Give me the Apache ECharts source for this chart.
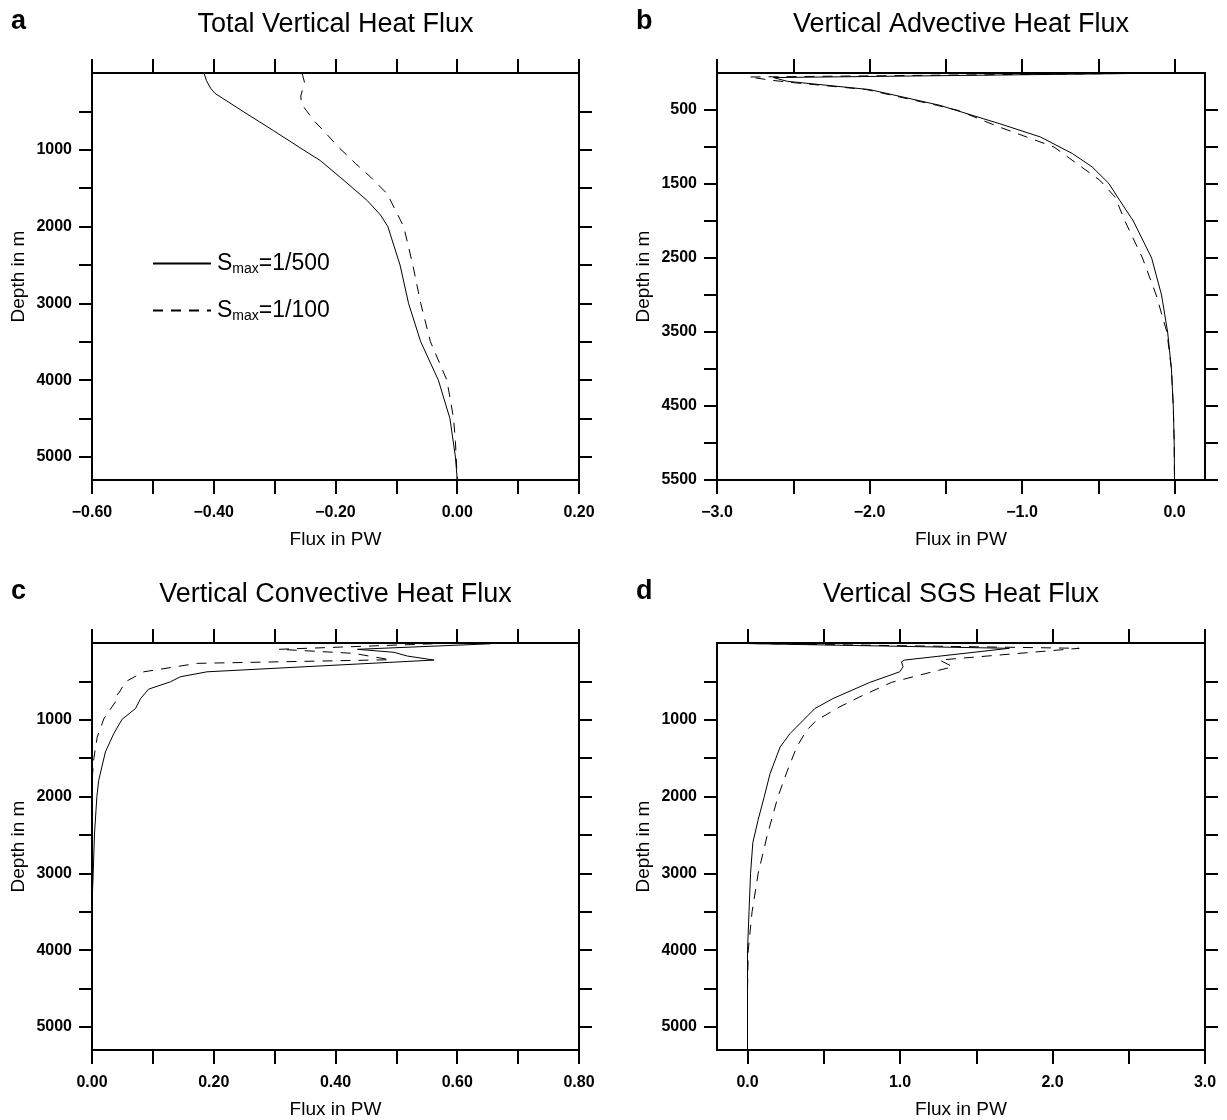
<!DOCTYPE html>
<html><head><meta charset="utf-8">
<script src="https://cdn.jsdelivr.net/npm/echarts@6/dist/echarts.min.js"></script>
<style>html,body{margin:0;padding:0;background:#fff}#c{width:1227px;height:1120px}</style>
</head><body><div id="c"></div>
<script>
// ---------- Panel a: Total Vertical Heat Flux ----------
const totalDepth500 = [0, 100, 200, 265, 500, 750, 1000, 1140, 1400, 1660, 1850, 2000, 2500, 3000, 3500, 4000, 4500, 5000, 5300];
const totalFlux500  = [-0.416, -0.412, -0.405, -0.398, -0.352, -0.302, -0.253, -0.225, -0.186, -0.148, -0.126, -0.114, -0.094, -0.080, -0.060, -0.031, -0.012, -0.003, 0.0];
const totalDepth100 = [0, 120, 300, 400, 487, 617, 748, 966, 1179, 1358, 1574, 2000, 2500, 3000, 3500, 4000, 4500, 4800, 5300];
const totalFlux100  = [-0.255, -0.251, -0.257, -0.256, -0.248, -0.236, -0.220, -0.195, -0.167, -0.142, -0.115, -0.088, -0.073, -0.060, -0.044, -0.017, -0.006, -0.003, 0.0];

// ---------- Panel b: Vertical Advective Heat Flux ----------
const advDepth500 = [0, 62, 112, 224, 436, 683, 864, 1088, 1269, 1494, 1719, 2000, 2500, 3000, 3500, 4000, 4500, 5000, 5500];
const advFlux500  = [0.0, -2.63, -2.54, -2.00, -1.54, -1.15, -0.88, -0.67, -0.54, -0.43, -0.36, -0.27, -0.15, -0.085, -0.045, -0.02, -0.008, -0.002, 0.0];
const advDepth100 = [0, 54, 99, 130, 224, 436, 505, 729, 1000, 1449, 1675, 2000, 2500, 3000, 3500, 4000, 4500, 5000, 5500];
const advFlux100  = [0.0, -2.79, -2.64, -2.50, -2.02, -1.56, -1.42, -1.15, -0.79, -0.49, -0.39, -0.325, -0.21, -0.12, -0.05, -0.02, -0.008, -0.002, 0.0];

// ---------- Panel c: Vertical Convective Heat Flux ----------
const convDepth500 = [10, 82, 121, 170, 222, 375, 440, 505, 601, 722, 853, 992, 1179, 1419, 1789, 2000, 2500, 3000, 3400, 5300];
const convFlux500  = [0.655, 0.436, 0.496, 0.518, 0.562, 0.189, 0.145, 0.129, 0.093, 0.080, 0.0715, 0.0496, 0.0358, 0.022, 0.011, 0.008, 0.004, 0.002, 0.0, 0.0];
const convDepth100 = [10, 82, 135, 174, 218, 265, 375, 505, 640, 722, 766, 986, 1226, 1507, 1800, 5300];
const convFlux100  = [0.56, 0.307, 0.43, 0.458, 0.49, 0.173, 0.085, 0.055, 0.045, 0.036, 0.0386, 0.0195, 0.0085, 0.003, 0.0, 0.0];

// ---------- Panel d: Vertical SGS Heat Flux ----------
const sgsDepth500 = [0, 69, 222, 244, 310, 375, 513, 722, 853, 1179, 1354, 1701, 2000, 2300, 2600, 3000, 3500, 4000, 5300];
const sgsFlux500  = [-0.2, 1.717, 1.031, 1.01, 1.02, 0.998, 0.802, 0.562, 0.442, 0.279, 0.214, 0.148, 0.11, 0.07, 0.035, 0.02, 0.01, 0.0, 0.0];
const sgsDepth100 = [0, 69, 222, 310, 397, 513, 700, 830, 1005, 1136, 1354, 1680, 2000, 2500, 3000, 3500, 4000, 4500, 5300];
const sgsFlux100  = [-0.2, 2.175, 1.26, 1.346, 1.17, 0.944, 0.737, 0.606, 0.454, 0.388, 0.323, 0.258, 0.20, 0.13, 0.07, 0.03, 0.005, 0.0, 0.0];

// ---------- Ticks and labels ----------
const xTicksA  = [-0.6, -0.5, -0.4, -0.3, -0.2, -0.1, 0, 0.1, 0.2];
const xLabelsA = [-0.6, -0.4, -0.2, 0, 0.2];
const xTicksB  = [-3, -2.5, -2, -1.5, -1, -0.5, 0];
const xLabelsB = [-3, -2, -1, 0];
const xTicksC  = [0, 0.1, 0.2, 0.3, 0.4, 0.5, 0.6, 0.7, 0.8];
const xLabelsC = [0, 0.2, 0.4, 0.6, 0.8];
const xTicksD  = [0, 0.5, 1, 1.5, 2, 2.5, 3];
const xLabelsD = [0, 1, 2, 3];
const yTicks   = [500, 1000, 1500, 2000, 2500, 3000, 3500, 4000, 4500, 5000];
const yLabels  = [1000, 2000, 3000, 4000, 5000];
const yTicksB  = [500, 1000, 1500, 2000, 2500, 3000, 3500, 4000, 4500, 5000, 5500];
const yLabelsB = [500, 1500, 2500, 3500, 4500, 5500];

const titles = ['Total Vertical Heat Flux', 'Vertical Advective Heat Flux', 'Vertical Convective Heat Flux', 'Vertical SGS Heat Flux'];
const letters = ['a', 'b', 'c', 'd'];
const seriesNames = ['Smax=1/500', 'Smax=1/100'];

const FONT = 'Liberation Sans, Arial, sans-serif';
const grids = [
  {left: 92,  top: 73,  width: 487, height: 407},
  {left: 717, top: 73,  width: 488, height: 407},
  {left: 92,  top: 643, width: 487, height: 407},
  {left: 717, top: 643, width: 488, height: 407}
];
const xRange = [[-0.6, 0.2], [-3, 0.2], [0, 0.8], [-0.2, 3]];
const yMax = [5300, 5500, 5300, 5300];
const xTicks = [xTicksA, xTicksB, xTicksC, xTicksD];
const xLabels = [xLabelsA, xLabelsB, xLabelsC, xLabelsD];
const xDec = [2, 1, 2, 1];
const yT = [yTicks, yTicksB, yTicks, yTicks];
const yL = [yLabels, yLabelsB, yLabels, yLabels];

function fmtX(dec) {
  return function (v) {
    const s = Math.abs(v).toFixed(dec);
    return v < -1e-9 ? '\u2212' + s : s;
  };
}
function fmtY(v) { return String(Math.round(v)); }
const lineBlack = {color: '#000', width: 2};

const xAxis = [], yAxis = [];
for (let i = 0; i < 4; i++) {
  xAxis.push({
    type: 'value', gridIndex: i, position: 'bottom', min: xRange[i][0], max: xRange[i][1],
    axisLine: {show: true, onZero: false, lineStyle: lineBlack},
    axisTick: {show: true, inside: false, length: 14, customValues: xTicks[i], lineStyle: lineBlack},
    axisLabel: {show: true, customValues: xLabels[i], formatter: fmtX(xDec[i]), margin: 25,
      color: '#000', fontSize: 16, fontWeight: 'bold', fontFamily: FONT},
    splitLine: {show: false},
    name: 'Flux in PW', nameLocation: 'middle', nameGap: 50,
    nameTextStyle: {color: '#000', fontSize: 19, fontFamily: FONT}
  });
  xAxis.push({
    type: 'value', gridIndex: i, position: 'top', min: xRange[i][0], max: xRange[i][1],
    axisLine: {show: true, onZero: false, lineStyle: lineBlack},
    axisTick: {show: true, inside: false, length: 14, customValues: xTicks[i], lineStyle: lineBlack},
    axisLabel: {show: false}, splitLine: {show: false}
  });
  yAxis.push({
    type: 'value', gridIndex: i, position: 'left', inverse: true, min: 0, max: yMax[i],
    axisLine: {show: true, onZero: false, lineStyle: lineBlack},
    axisTick: {show: true, inside: false, length: 13, customValues: yT[i], lineStyle: lineBlack},
    axisLabel: {show: true, customValues: yL[i], formatter: fmtY, margin: 20,
      color: '#000', fontSize: 16, fontWeight: 'bold', fontFamily: FONT},
    splitLine: {show: false},
    name: 'Depth in m', nameLocation: 'middle', nameGap: 64, nameRotate: 90,
    nameTextStyle: {color: '#000', fontSize: 19, fontFamily: FONT}
  });
  yAxis.push({
    type: 'value', gridIndex: i, position: 'right', inverse: true, min: 0, max: yMax[i],
    axisLine: {show: true, onZero: false, lineStyle: lineBlack},
    axisTick: {show: true, inside: false, length: 13, customValues: yT[i], lineStyle: lineBlack},
    axisLabel: {show: false}, splitLine: {show: false}
  });
}

const curves = [
  [totalDepth500, totalFlux500, totalDepth100, totalFlux100],
  [advDepth500, advFlux500, advDepth100, advFlux100],
  [convDepth500, convFlux500, convDepth100, convFlux100],
  [sgsDepth500, sgsFlux500, sgsDepth100, sgsFlux100]
];
const series = [];
curves.forEach(function (c, i) {
  [[c[0], c[1], 'solid', seriesNames[0]], [c[2], c[3], [10, 8], seriesNames[1]]].forEach(function (s) {
    series.push({
      type: 'line', name: s[3], xAxisIndex: 2 * i, yAxisIndex: 2 * i,
      data: s[0].map(function (d, k) { return [s[1][k], d]; }),
      symbol: 'none', showSymbol: false, clip: true, silent: true,
      lineStyle: {color: '#000', width: 1, type: s[2]}, itemStyle: {color: '#000'}
    });
  });
});

const title = [];
for (let i = 0; i < 4; i++) {
  const g = grids[i];
  title.push({text: letters[i], left: g.left - 81, top: g.top - 65, padding: 0,
    textStyle: {fontSize: 27, fontWeight: 'bold', color: '#000', fontFamily: FONT}});
  title.push({text: titles[i], left: g.left + g.width / 2, top: g.top - 62, textAlign: 'center', padding: 0,
    textStyle: {fontSize: 27, fontWeight: 'normal', color: '#000', fontFamily: FONT}});
}

const rich = {
  s: {fontSize: 23, lineHeight: 26, verticalAlign: 'middle', color: '#000', fontFamily: FONT},
  sub: {fontSize: 14, lineHeight: 14, verticalAlign: 'bottom', color: '#000', fontFamily: FONT}
};
function legendItem(name, top, label) {
  return {
    data: [name], left: 152, top: top, orient: 'vertical', padding: 0, itemGap: 0,
    itemWidth: 58, itemHeight: 14, selectedMode: false,
    itemStyle: {opacity: 0, borderWidth: 0},
    lineStyle: {opacity: 1},
    formatter: function () { return '{s|S}{sub|max}{s|=' + label + '}'; },
    textStyle: {rich: rich, color: '#000', padding: [0, 0, 0, 1]}
  };
}

const chart = echarts.init(document.getElementById('c'), null, {renderer: 'canvas'});
chart.setOption({
  animation: false,
  backgroundColor: '#fff',
  textStyle: {fontFamily: FONT},
  title: title,
  legend: [legendItem(seriesNames[0], 252, '1/500'), legendItem(seriesNames[1], 299, '1/100')],
  grid: grids,
  xAxis: xAxis,
  yAxis: yAxis,
  series: series
});
</script></body></html>
